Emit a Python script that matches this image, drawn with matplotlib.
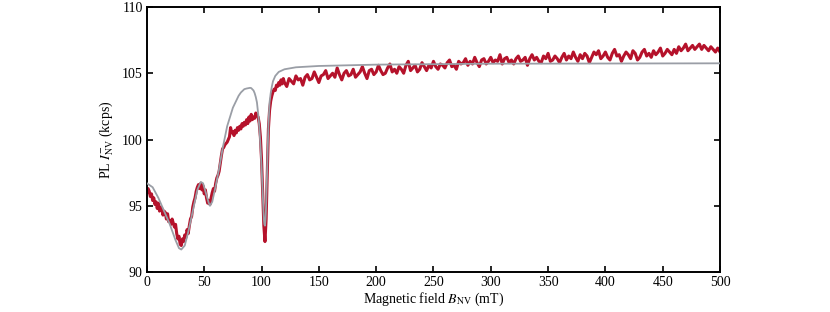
import numpy as np
import matplotlib
matplotlib.use('Agg')
from matplotlib import pyplot as plt

plt.rcParams['font.family'] = ['Liberation Serif', 'DejaVu Serif']
plt.rcParams['mathtext.fontset'] = 'stix'
plt.rcParams['font.size'] = 10

#%% data
# measured PL, fine part (0..119 mT, 1 mT steps)
b_fine = np.arange(0, 120, 1)
pl_fine = [96.0, 96.3, 96.1, 95.7, 95.9, 95.4, 95.6, 95.1, 95.3, 94.8,
           95.2, 94.6, 94.9, 94.8, 94.3, 94.6, 94.5, 94.0, 94.4, 93.8,
           93.9, 93.6, 94.0, 93.7, 93.4, 93.6, 92.9, 92.5, 92.7, 92.1,
           92.0, 92.5, 92.3, 92.8, 92.6, 93.2, 92.9, 93.5, 94.0, 94.2,
           94.9, 95.3, 95.6, 96.1, 96.4, 96.6, 96.3, 96.7, 96.2, 96.5,
           95.9, 96.2, 95.6, 95.2, 95.4, 95.1, 95.6, 96.0, 96.3, 96.1,
           96.7, 97.1, 97.3, 97.6, 98.2, 98.8, 99.3, 99.4, 99.6, 99.7,
           99.8, 100.0, 100.2, 100.9, 100.5, 100.6, 100.3, 100.7, 100.5, 100.9,
           100.7, 101.0, 100.8, 101.2, 101.0, 101.3, 101.1, 101.5, 101.2, 101.7,
           101.4, 101.9, 101.5, 101.7, 101.6, 102.0, 101.8, 101.7, 101.2, 100.2,
           98.5, 96.0, 93.5, 92.3, 94.0, 97.5, 100.8, 102.2, 102.9, 103.3,
           103.6, 103.8, 103.7, 104.1, 104.0, 104.3, 104.1, 104.5, 104.2, 104.6]

# measured PL, coarse part (120..500 mT, 2 mT steps)
b_coarse = np.arange(120, 501, 2)
pl_coarse = [104.3, 104.0, 104.6, 104.4, 104.2, 104.8, 104.5, 104.6, 104.1, 104.7,
             104.9, 104.5, 104.6, 105.1, 104.7, 104.3, 104.8, 104.9, 105.2, 104.6,
             104.8, 105.0, 104.7, 105.4, 104.9, 104.5, 105.0, 105.2, 104.8, 104.9,
             105.3, 104.7, 104.9, 105.1, 105.5, 105.0, 104.6, 105.2, 105.3, 104.9,
             105.1, 105.6, 105.2, 104.9, 105.0, 105.4, 105.7, 105.1, 105.3, 105.0,
             105.5, 105.3, 105.0, 105.6, 105.9, 105.2, 105.4, 105.6, 105.1, 105.3,
             105.8, 105.5, 105.2, 105.6, 105.4, 105.9, 105.5, 105.3, 105.7, 105.6,
             105.4, 105.8, 106.0, 105.5, 105.6, 105.3, 105.9, 105.7, 105.8, 106.1,
             105.6, 105.9, 105.7, 106.2, 105.8, 105.5, 106.0, 106.1, 105.7, 105.9,
             106.2, 105.8, 106.0, 105.9, 106.4, 105.7, 106.1, 106.2, 105.8, 106.0,
             105.7, 106.1, 106.3, 105.9, 106.0, 106.2, 105.6, 106.1, 106.4, 106.0,
             106.2, 105.9, 105.8, 106.3, 106.1, 106.5, 105.9, 106.0, 106.3, 106.1,
             105.8, 106.2, 106.5, 106.0, 106.3, 106.1, 106.6, 106.2, 105.9, 106.4,
             106.1, 106.5, 106.3, 105.8, 106.2, 106.6, 106.4, 106.7, 106.1, 106.3,
             106.6, 106.2, 106.0, 106.5, 106.8, 106.3, 106.4, 105.9, 106.3, 106.6,
             106.4, 106.1, 106.7, 106.5, 106.0, 106.2, 106.6, 106.8, 106.3, 106.5,
             106.2, 106.7, 106.4, 106.6, 106.9, 106.3, 106.5, 106.8, 106.6, 106.4,
             106.8, 106.5, 107.0, 106.7, 106.9, 107.2, 106.7, 106.9, 107.1, 106.8,
             107.0, 107.2, 106.8, 107.1, 106.9, 106.7, 107.0, 106.8, 106.6, 106.9,
             106.6]

b_meas = np.concatenate([b_fine, b_coarse])
pl_meas = np.array(pl_fine + pl_coarse)

# model curve (grey)
b_fit = [0, 5, 10, 15, 20, 25, 28, 30, 33, 36, 40, 44, 47, 49, 52, 54, 55, 57,
         60, 63, 66, 70, 75, 80, 82, 85, 87, 90, 91, 93, 94, 95, 96, 97, 98, 99,
         100, 100.5, 101, 102, 102.5, 103, 103.5, 104, 104.5, 105, 105.5, 106,
         107, 108, 109, 110, 112, 115, 120, 130, 150, 200, 300, 500]
pl_fit = [96.7, 96.4, 95.6, 94.6, 93.6, 92.4, 91.8, 91.7, 92.0, 93.0, 94.6,
          96.2, 96.8, 96.7, 95.8, 95.2, 95.0, 95.3, 96.5, 97.8, 99.3, 101.0,
          102.4, 103.3, 103.55, 103.8, 103.85, 103.9, 103.88, 103.7, 103.5,
          103.2, 102.8, 102.0, 101.0, 99.6, 98.0, 97.0, 96.0, 94.0, 93.6, 93.5,
          94.0, 95.0, 96.5, 98.0, 99.6, 101.0, 102.8, 103.5, 104.0, 104.4,
          104.8, 105.1, 105.3, 105.45, 105.55, 105.65, 105.72, 105.75]

#%% plot
fig = plt.figure(figsize=(8.3, 3.12), dpi=100)
ax = fig.add_axes([0.177, 0.128, 0.6905, 0.8496])

ax.plot(b_meas, pl_meas, color='#b5122b', lw=2.2, zorder=2)
ax.plot(b_fit, pl_fit, color='#9a9ea6', lw=1.3, zorder=3)

ax.set_xlim(0, 500)
ax.set_ylim(90, 110)
ax.set_xticks(np.arange(0, 501, 50))
ax.set_yticks(np.arange(90, 111, 5))
ax.tick_params(direction='in', top=True, right=True, length=4, width=1.2,
               labelsize=10, pad=3)
for s in ax.spines.values():
    s.set_linewidth(1.4)

ax.set_xlabel(r'Magnetic field $B_{\rm NV}$ (mT)', labelpad=1)
ax.set_ylabel(r'PL $I^{-}_{\rm NV}$ (kcps)', labelpad=4)

fig.savefig('out.png', dpi=100)
